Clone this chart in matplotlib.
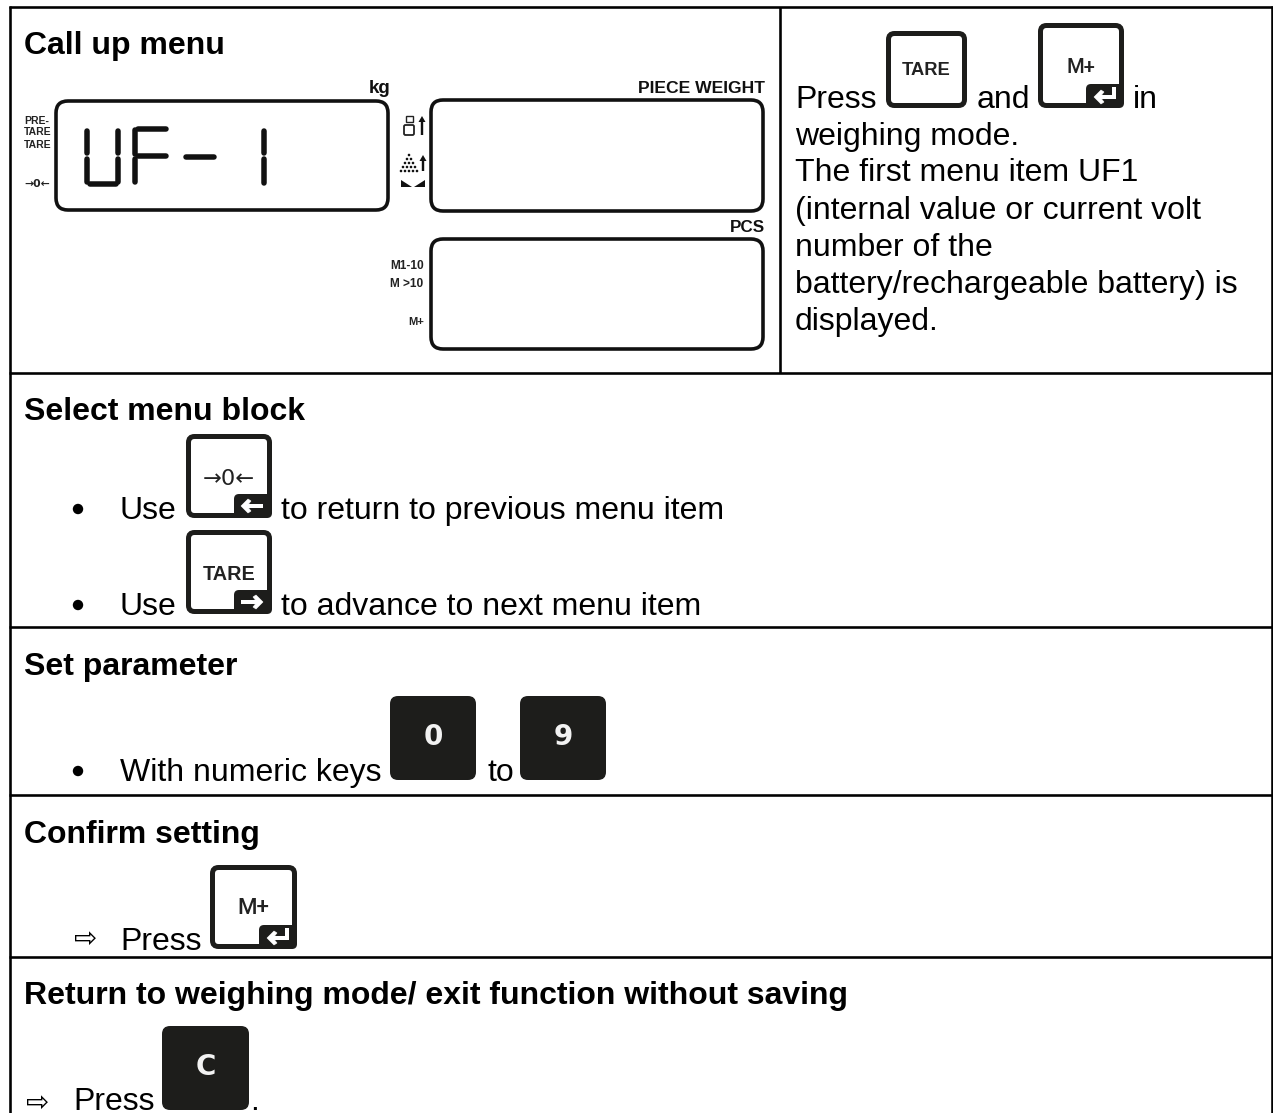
import matplotlib
matplotlib.use('Agg')
import matplotlib.pyplot as plt
from matplotlib.patches import FancyBboxPatch, Polygon, Rectangle, Circle

plt.rcParams['font.family'] = ['Liberation Sans', 'DejaVu Sans']

W, H = 1273, 1113
INK = '#000000'
KEY = '#1d1d1b'

# table text
headings = ['Call up menu', 'Select menu block', 'Set parameter', 'Confirm setting',
            'Return to weighing mode/ exit function without saving']
heading_y = [54, 420, 675, 843, 1004]
right_lines = ['weighing mode.', 'The first menu item UF1', '(internal value or current volt',
               'number of the', 'battery/rechargeable battery) is', 'displayed.']
right_y = [145, 181, 219, 256, 293, 330]
body_text = ['Press', 'and', 'in', 'Use', 'to return to previous menu item', 'Use',
             'to advance to next menu item', 'With numeric keys', 'to', 'Press', 'Press', '.']
body_x = [795, 977, 1133, 120, 281, 120, 281, 120, 487, 120, 73, 250]
body_y = [108, 108, 108, 519, 519, 615, 615, 781, 781, 950, 1110, 1110]
bullet_y = [509, 605, 771]
arrow_x = [86, 38]
arrow_y = [939, 1103]

# table rules
rule_y = [7, 373, 627, 795, 957]

# outlined keys: x0, y0, x1, y1, label, label font size, label baseline, corner symbol
white_keys = [(886, 31, 967, 108, 'TARE', 13.2, 75, None),
              (1038, 23, 1124, 108, 'M+', 14.5, 73, 'enter'),
              (186, 434, 272, 518, '\u21920\u2190', 16.2, 485, 'left'),
              (186, 530, 272, 614, 'TARE', 14.3, 580, 'right'),
              (210, 865, 297, 949, 'M+', 16, 914, 'enter')]
# filled keys: x0, y0, x1, y1, label, label baseline
black_keys = [(390, 696, 476, 780, '0', 745), (520, 696, 606, 780, '9', 745), (162, 1026, 249, 1110, 'C', 1075)]

# display panels
panels = [(54, 99, 390, 212), (429, 98, 765, 213), (429, 237, 765, 351)]
panel_labels = ['kg', 'PIECE WEIGHT', 'PCS']
panel_label_x = [390, 765, 765]
panel_label_y = [93, 93, 232]
panel_label_size = [13.5, 12.6, 12.3]
left_labels = ['PRE-', 'TARE', 'TARE', 'M1-10', 'M >10', 'M+']
left_label_x = [24, 24, 24, 390, 390, 408]
left_label_y = [124, 135, 148, 269, 287, 325]
left_label_size = [7.5, 7.5, 7.5, 8.6, 8.6, 8.0]
# segments of the UF-1 read-out
seg_v = [(87, 131, 153), (87, 159, 182), (118, 131, 153), (118, 159, 182),
         (135, 130, 154), (135, 159, 182), (264, 131, 153), (264, 159, 183)]
seg_h = [(90, 116, 184), (138, 166, 129), (138, 166, 156), (186, 214, 157)]

fig = plt.figure(figsize=(W / 100, H / 100), dpi=100)
ax = fig.add_axes([0, 0, 1, 1])
ax.set_xlim(0, W)
ax.set_ylim(H, 0)
ax.axis('off')


def px(v):
    return v * 0.72


def rounded(x0, y0, x1, y1, r, lw=0, fc='white', ec='none', z=2):
    ax.add_patch(FancyBboxPatch((x0, y0), x1 - x0, y1 - y0, boxstyle=f'round,pad=0,rounding_size={r}',
                                fc=fc, ec=ec, lw=px(lw), zorder=z))


def corner_arrow(x0, x1, y, left=True):
    # white arrow in the black key corner
    tip, tail = (x0, x1) if left else (x1, x0)
    d = 1 if left else -1
    ax.plot([tip + 3 * d, tail], [y, y], color='white', lw=px(4), solid_capstyle='butt', zorder=5)
    ax.add_patch(Polygon([(tip, y), (tip + 7 * d, y - 7), (tip + 10 * d, y - 5), (tip + 6 * d, y),
                          (tip + 10 * d, y + 5), (tip + 7 * d, y + 7)], fc='white', ec='white', lw=0.4, zorder=5))


def white_key(x0, y0, x1, y1, label, size, base, corner):
    rounded(x0 + 2.5, y0 + 2.5, x1 - 2.5, y1 - 2.5, 6, lw=5, ec=KEY)
    mid = (x0 + x1) / 2
    if label == 'TARE':
        ax.text(mid, base, label, fontsize=size, weight='bold', color='#222222', ha='center', va='baseline', zorder=4)
    elif label == 'M+':
        ax.text(mid, base, label, fontsize=size, family='Roboto', weight='medium', color='#222222',
                ha='center', va='baseline', zorder=4)
    else:
        ax.text(mid, base, label, fontsize=size, family='DejaVu Sans', color='#222222',
                ha='center', va='baseline', zorder=4)
    if corner:
        ax.add_patch(FancyBboxPatch((x1 - 38, y1 - 24), 38, 24, boxstyle='round,pad=0,rounding_size=5',
                                    fc=KEY, ec='none', zorder=3))
        ax.add_patch(Rectangle((x1 - 20, y1 - 24), 14, 20, fc=KEY, ec='none', zorder=3))
        my = y1 - 12
        if corner == 'left':
            corner_arrow(x1 - 31, x1 - 9, my)
        elif corner == 'right':
            corner_arrow(x1 - 31, x1 - 9, my, left=False)
        else:
            corner_arrow(x1 - 30, x1 - 8, my + 1)
            ax.plot([x1 - 10, x1 - 10], [my + 3, my - 9], color='white', lw=px(4), solid_capstyle='butt', zorder=5)


def black_key(x0, y0, x1, y1, label, base):
    rounded(x0, y0, x1, y1, 8, fc=KEY)
    ax.text((x0 + x1) / 2, base, label, fontsize=20, family='DejaVu Sans', weight='bold',
            color='#f2f2f2', ha='center', va='baseline', zorder=4)


# table frame
for y in rule_y:
    ax.plot([9, W], [y, y], color=INK, lw=px(2.6), solid_capstyle='butt')
ax.plot([10, 10], [6, H], color=INK, lw=px(2.6), solid_capstyle='butt')
ax.plot([1272, 1272], [6, H], color=INK, lw=px(2.6), solid_capstyle='butt')
ax.plot([780, 780], [7, 373], color=INK, lw=px(2.6), solid_capstyle='butt')

# text
for t, y in zip(headings, heading_y):
    ax.text(24, y, t, fontsize=23, weight='bold', color=INK, va='baseline')
for t, y in zip(right_lines, right_y):
    ax.text(795, y, t, fontsize=23, color=INK, va='baseline')
for t, x, y in zip(body_text, body_x, body_y):
    ax.text(x, y, t, fontsize=23, color=INK, va='baseline')
for y in bullet_y:
    ax.add_patch(Circle((78, y), 5.2, fc=INK, ec='none'))
for x, y in zip(arrow_x, arrow_y):
    ax.text(x, y, '\u21e8', fontsize=20, family='DejaVu Sans', color=INK, ha='center', va='center')
for k in white_keys:
    white_key(*k)
for k in black_keys:
    black_key(*k)

# display
for x0, y0, x1, y1 in panels:
    rounded(x0 + 2, y0 + 2, x1 - 2, y1 - 2, 12, lw=3.6, ec='#111111')
for t, x, y, s in zip(panel_labels, panel_label_x, panel_label_y, panel_label_size):
    ax.text(x, y, t, fontsize=s, weight='bold', color='#111111', ha='right', va='baseline')
for t, x, y, s in zip(left_labels, left_label_x, left_label_y, left_label_size):
    ax.text(x, y, t, fontsize=s, weight='bold', color='#222222', va='baseline')
ax.text(24, 187, '\u21920\u2190', fontsize=7.8, family='DejaVu Sans', weight='bold', color='#222222', va='baseline')
for x, y0, y1 in seg_v:
    ax.plot([x, x], [y0, y1], color='#111111', lw=px(5.5), solid_capstyle='round')
for x0, x1, y in seg_h:
    ax.plot([x0, x1], [y, y], color='#111111', lw=px(5.5), solid_capstyle='round')

# weight and pieces symbols
rounded(404, 125, 414, 135, 1.5, lw=1.8, ec='#222222')
ax.add_patch(Rectangle((405.5, 116), 7, 6, fc='white', ec='#222222', lw=1.0))
for x, y0, y1, h in [(422, 135, 121, 117), (423, 171, 160, 156)]:
    ax.plot([x, x], [y0, y1], color='#111111', lw=px(2.4), solid_capstyle='butt')
    ax.add_patch(Polygon([(x - 3.5, y1 + 1), (x + 3.5, y1 + 1), (x, h - 1)], fc='#111111', ec='none'))
for row, y in enumerate([155, 159, 163, 167, 171]):
    for i in range(row + 1):
        ax.add_patch(Circle((409 - row * 2.0 + i * 4.0, y), 1.3, fc='#111111', ec='none'))
ax.add_patch(Polygon([(401, 180), (412, 187), (401, 187)], fc='#111111', ec='none'))
ax.add_patch(Polygon([(425, 180), (414, 187), (425, 187)], fc='#111111', ec='none'))

fig.savefig('out.png', dpi=100)
